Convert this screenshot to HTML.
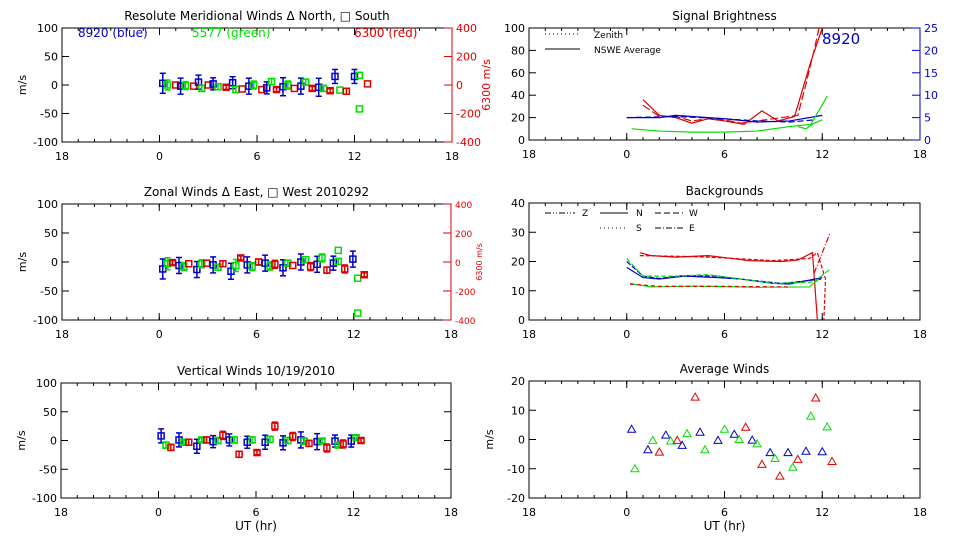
<!DOCTYPE html>
<html><head><meta charset="utf-8"><style>
body{margin:0;background:#fff}
svg{display:block;font-family:"DejaVu Sans","Liberation Sans",sans-serif}
</style></head><body>
<svg id="s" width="960" height="540" viewBox="0 0 960 540"></svg>
<script>
const S=document.getElementById('s');let h='';
const B='#0000c8',G='#00e000',R='#e00000';
function T(x,y,t,o){o=o||{};h+=`<text x="${x}" y="${y}" font-size="${o.s||11}" fill="${o.c||'#000'}" text-anchor="${o.a||'middle'}"${o.r?` transform="rotate(-90 ${x} ${y})"`:''}>${t}</text>`;}
function L(x1,y1,x2,y2,c,w,d){h+=`<line x1="${x1}" y1="${y1}" x2="${x2}" y2="${y2}" stroke="${c||'#000'}" stroke-width="${w||1}"${d?` stroke-dasharray="${d}"`:''}/>`;}
function P(pts,c,d){h+=`<polyline fill="none" stroke="${c}" stroke-width="1.2" points="${pts.map(p=>p.join(',')).join(' ')}"${d?` stroke-dasharray="${d}"`:''}/>`;}
function panel(x0,x1,y0,y1,title,yt,ylab,xlab,right){
 h+=`<rect x="${x0}" y="${y0}" width="${x1-x0}" height="${y1-y0}" fill="none" stroke="#000"/>`;
 T((x0+x1)/2,y0-8,title,{s:12});
 const xs=[18,0,6,12,18];
 for(let i=0;i<=4;i++){const x=x0+(x1-x0)*i/4;T(x,y1+18,xs[i]);L(x,y1,x,y1-7);L(x,y0,x,y0+7);}
 for(let i=0;i<=24;i++){const x=x0+(x1-x0)*i/24;L(x,y1,x,y1-3);L(x,y0,x,y0+3);}
 yt.forEach((v,i)=>{const y=y1-(y1-y0)*i/(yt.length-1);T(x0-4,y+4,v,{a:'end'});L(x0,y,x0+7,y);if(!right)L(x1,y,x1-7,y);});
 T(x0-36,(y0+y1)/2,ylab,{r:1});
 if(xlab)T((x0+x1)/2,y1+32,xlab,{s:12});
}
function rax(x1,y0,y1,vals,c,s){vals.forEach((v,i)=>{const y=y1-(y1-y0)*i/(vals.length-1);L(x1,y,x1-8,y,c);T(x1+4,y+4,v,{a:'start',c:c,s:s||11});});L(x1,y0,x1,y1,c);}
const LX0=62,LX1=452,hx=t=>LX0+(t+6)/24*(LX1-LX0);
panel(62,452,28,142,'Resolute Meridional Winds &#916; North, &#9633; South',[-100,-50,0,50,100],'m/s');
rax(452,28,142,[-400,-200,0,200,400],R);
T(78,37,'8920 (blue)',{c:B,s:12,a:'start'});T(192,37,'5577 (green)',{c:G,s:12,a:'start'});T(354,37,'6300 (red)',{c:R,s:12,a:'start'});
T(490,85,'6300 m/s',{c:R,r:1,s:11});
panel(62,451,204,320,'Zonal Winds &#916; East, &#9633; West 2010292',[-100,-50,0,50,100],'m/s');
rax(451,204,320,[-400,-200,0,200,400],R,9);
T(482,262,'6300 m/s',{c:R,r:1,s:8});
panel(61,451,383,498,'Vertical Winds 10/19/2010',[-100,-50,0,50,100],'m/s','UT (hr)');
function mk(x,y,c,err){if(err){L(x,y-err,x,y+err,c,1.5);L(x-3,y-err,x+3,y-err,c,1.5);L(x-3,y+err,x+3,y+err,c,1.5);}h+=`<rect x="${x-3}" y="${y-3}" width="6" height="6" fill="none" stroke="${c}" stroke-width="1.5"/>`;}
function series(y0,y1,data){const ym=v=>(y0+y1)/2-v/200*(y1-y0);data.forEach(d=>mk(hx(d[0]),ym(d[1]),d[2],d[3]));}
series(28,142,[[0.2,3,B,10],[0.5,0,G,5],[1,0,R,0],[1.3,-2,B,8],[1.6,-1,G,4],[2.1,-2,R,0],[2.4,5,B,7],[2.6,-6,G,3],[3,0,R,0],[3.3,2,B,6],[3.6,-3,G,3],[4.1,-4,R,2],[4.5,4,B,6],[4.7,-8,G,3],[5.1,-7,R,0],[5.5,-2,B,8],[5.8,0,G,4],[6.3,-8,R,0],[6.6,-5,B,6],[6.9,6,G,3],[7.2,-8,R,2],[7.6,-3,B,9],[7.9,0,G,4],[8.3,-6,R,0],[8.7,-2,B,8],[9,5,G,3],[9.4,-6,R,2],[9.8,-4,B,9],[10.1,-6,G,3],[10.5,-10,R,2],[10.8,15,B,7],[11.1,-9,G,0],[11.5,-11,R,3],[12,15,B,7],[12.3,17,G,0],[12.3,-42,G,0],[12.8,2,R,0]]);
series(204,320,[[0.2,-12,B,10],[0.5,-3,G,6],[0.8,-1,R,2],[1.2,-6,B,8],[1.5,-8,G,4],[1.8,-3,R,0],[2.3,-13,B,8],[2.6,-3,G,4],[2.9,-2,R,0],[3.3,-5,B,8],[3.6,-9,G,3],[3.9,-3,R,3],[4.4,-16,B,8],[4.7,-6,G,6],[5,7,R,2],[5.4,-5,B,8],[5.7,-8,G,4],[6.1,0,R,3],[6.5,-2,B,8],[6.8,-7,G,4],[7.1,-4,R,4],[7.6,-10,B,8],[7.9,-2,G,3],[8.2,-6,R,0],[8.7,0,B,8],[9,4,G,3],[9.3,-8,R,4],[9.7,-4,B,8],[10,7,G,4],[10.3,-14,R,3],[10.7,-2,B,7],[11,20,G,0],[11,1,G,3],[11.4,-12,R,4],[11.9,5,B,8],[12.2,-28,G,0],[12.2,-88,G,0],[12.6,-22,R,2]]);
series(383,498,[[0.1,8,B,7],[0.4,-8,G,3],[0.7,-12,R,3],[1.2,1,B,7],[1.5,-3,G,2],[1.8,-3,R,3],[2.3,-10,B,7],[2.6,1,G,2],[2.9,1,R,3],[3.3,-2,B,6],[3.6,0,G,3],[3.9,9,R,4],[4.3,1,B,6],[4.6,1,G,3],[4.9,-24,R,3],[5.4,-3,B,6],[5.7,1,G,3],[6,-21,R,2],[6.5,-3,B,7],[6.8,2,G,3],[7.1,25,R,4],[7.6,-4,B,7],[7.9,0,G,3],[8.2,7,R,4],[8.7,1,B,8],[8.9,-1,G,3],[9.2,-5,R,3],[9.7,-2,B,8],[10,-1,G,2],[10.3,-13,R,4],[10.8,-1,B,6],[11,-8,G,2],[11.3,-6,R,4],[11.8,-1,B,6],[12.1,5,G,2],[12.4,0,R,2]]);
const RX0=529,RX1=920,rx=t=>RX0+(t+6)/24*(RX1-RX0);
panel(529,920,28,140,'Signal Brightness',[0,20,40,60,80,100],'',null,true);
rax(920,28,140,[0,5,10,15,20,25],B);
T(822,44,'8920',{c:B,s:15,a:'start'});
L(545,34,580,34,'#000',1,'1,3');T(594,38,'Zenith',{s:9,a:'start'});
L(545,49,580,49,'#000',1);T(594,53,'NSWE Average',{s:9,a:'start'});
const sb=v=>140-v*1.12;
P([[1,36],[2,22],[3,20],[4,15],[5,19],[6,17],[7.2,14],[8.3,26],[9.3,17],[10.3,21],[11.3,70],[12,100]].map(p=>[rx(p[0]),sb(p[1])]),R);
P([[1,31],[2,21],[3,21],[4,17],[5,19],[6,18],[7,15],[10.5,22],[11,50],[11.5,80],[11.8,100]].map(p=>[rx(p[0]),sb(p[1])]),R,'8,3');
P([[0,20],[2,20],[3,22],[6,19],[8,16],[10,17],[12,22]].map(p=>[rx(p[0]),sb(p[1])]),B);
P([[0,20],[3,21],[6,19],[8,17],[10,16],[11.5,18]].map(p=>[rx(p[0]),sb(p[1])]),B,'6,3');
P([[0.3,10],[2,8],[4,7],[6,7],[8,8],[10,12],[11.3,14],[12.3,39]].map(p=>[rx(p[0]),sb(p[1])]),G);
P([[10.5,12],[11,10],[11.5,15],[12,18]].map(p=>[rx(p[0]),sb(p[1])]),G);
panel(529,920,203,320,'Backgrounds',[0,10,20,30,40],'');
const bg=v=>320-v*2.925;
L(545,213,575,213,'#000',1,'6,2,1,2,1,2');T(582,216,'Z',{s:9,a:'start'});
L(600,213,628,213,'#000');T(636,216,'N',{s:9,a:'start'});
L(655,213,683,213,'#000',1,'6,3');T(689,216,'W',{s:9,a:'start'});
L(600,228,628,228,'#000',1,'1,3');T(636,231,'S',{s:9,a:'start'});
L(655,228,683,228,'#000',1,'6,2,1,2');T(689,231,'E',{s:9,a:'start'});
P([[0.8,23],[1.5,22],[3,21.5],[5,22],[6.5,21],[7.5,20.3],[9.5,20],[10.5,20.5],[11.4,23],[11.7,0]].map(p=>[rx(p[0]),bg(p[1])]),R);
P([[0.8,22],[3,21.8],[5,21.5],[9,20.3],[11.2,21],[11.7,23],[12.2,14],[12.1,0]].map(p=>[rx(p[0]),bg(p[1])]),R,'4,2');
P([[11.5,16],[12.5,30]].map(p=>[rx(p[0]),bg(p[1])]),R,'6,2,1,2');
P([[0,18],[1,14.5],[2,14],[3.5,15],[5.5,14.5],[7,14],[9,12.5],[10,12.3],[12,14.5]].map(p=>[rx(p[0]),bg(p[1])]),B);
P([[0,20],[1,15],[2,14.2],[3.5,15.2],[5.5,15],[7,14],[9.5,12.5],[12,14]].map(p=>[rx(p[0]),bg(p[1])]),B,'5,2');
P([[0,21],[1,15],[3,15],[5,15.5],[7,14],[9,12.5],[11.5,13],[12.5,17.5]].map(p=>[rx(p[0]),bg(p[1])]),G,'5,2');
P([[0.2,12.5],[1.5,11.3],[4,11.6],[6,11.4],[8,11.2],[11.2,11.3],[11.8,14]].map(p=>[rx(p[0]),bg(p[1])]),G);
P([[0.2,12.3],[2,11.5],[6,11.5],[10,11.3]].map(p=>[rx(p[0]),bg(p[1])]),R,'4,3');
panel(529,920,381,498,'Average Winds',[-20,-10,0,10,20],'m/s','UT (hr)');
const aw=v=>439.5-v*2.925;
function tri(x,y,c){h+=`<polygon points="${x},${y-4} ${x+4},${y+3} ${x-4},${y+3}" fill="none" stroke="${c}" stroke-width="1"/>`;}
[[0.3,3.5,B],[0.5,-10,G],[1.3,-3.5,B],[1.6,-0.3,G],[2,-4.3,R],[2.4,1.5,B],[2.7,-0.5,G],[3.1,-0.3,R],[3.4,-2,B],[3.7,2,G],[4.2,14.5,R],[4.5,2.5,B],[4.8,-3.5,G],[5.6,-0.3,B],[6,3.5,G],[6.6,1.8,B],[6.9,0,G],[7.3,4.2,R],[7.7,-0.2,B],[8,-1.5,G],[8.3,-8.5,R],[8.8,-4.5,B],[9.1,-6.5,G],[9.4,-12.5,R],[9.9,-4.5,B],[10.2,-9.5,G],[10.5,-6.8,R],[11,-4,B],[11.3,8,G],[11.6,14.2,R],[12,-4.2,B],[12.3,4.3,G],[12.6,-7.5,R]].forEach(d=>tri(rx(d[0]),aw(d[1]),d[2]));
S.innerHTML=h;
</script>
</body></html>
